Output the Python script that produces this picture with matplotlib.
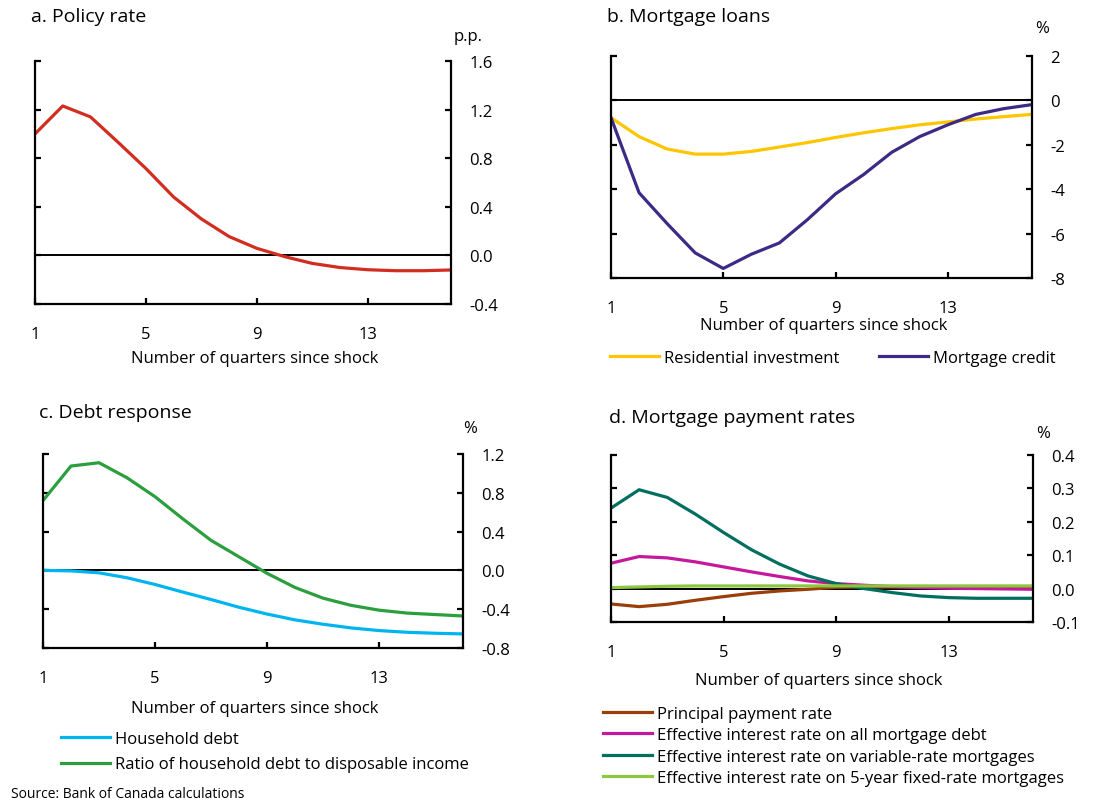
import numpy as np
import matplotlib.pyplot as plt
from matplotlib.ticker import FormatStrFormatter

plt.rcParams['font.family'] = ['Open Sans', 'DejaVu Sans']

quarters = np.arange(1, 17)

# a. Policy rate (p.p.)
policy_rate = [1.00, 1.23, 1.14, 0.93, 0.715, 0.48, 0.30, 0.155, 0.058, -0.01,
               -0.066, -0.10, -0.118, -0.126, -0.126, -0.12]

# b. Mortgage loans (%)
residential_inv = [-0.78, -1.63, -2.19, -2.42, -2.42, -2.30, -2.10, -1.90, -1.67,
                   -1.46, -1.27, -1.10, -0.97, -0.84, -0.73, -0.63]
mortgage_credit = [-0.78, -4.16, -5.55, -6.87, -7.57, -6.93, -6.42, -5.37, -4.21,
                   -3.34, -2.34, -1.63, -1.10, -0.63, -0.37, -0.19]

# c. Debt response (%)
household_debt = [0.0, -0.005, -0.025, -0.076, -0.145, -0.224, -0.30, -0.38, -0.45,
                  -0.51, -0.555, -0.593, -0.62, -0.638, -0.648, -0.655]
debt_to_income = [0.72, 1.076, 1.11, 0.955, 0.76, 0.53, 0.31, 0.14, -0.03,
                  -0.176, -0.286, -0.36, -0.41, -0.44, -0.455, -0.47]

# d. Mortgage payment rates (%)
principal_rate = [-0.046, -0.054, -0.047, -0.035, -0.024, -0.014, -0.007, -0.002,
                  0.004, 0.005, 0.005, 0.005, 0.005, 0.005, 0.005, 0.005]
eff_all = [0.076, 0.096, 0.092, 0.080, 0.065, 0.050, 0.036, 0.023, 0.015, 0.010,
           0.006, 0.003, 0.001, 0.0, -0.001, -0.002]
eff_variable = [0.241, 0.296, 0.273, 0.223, 0.168, 0.116, 0.073, 0.038, 0.015, 0.0,
                -0.012, -0.022, -0.027, -0.029, -0.029, -0.029]
eff_fixed = [0.003, 0.005, 0.007, 0.008, 0.008, 0.008, 0.008, 0.008, 0.008, 0.008,
             0.008, 0.008, 0.008, 0.008, 0.008, 0.008]

W, H = 1116, 804
fig = plt.figure(figsize=(W / 100, H / 100), dpi=100)


def box(l, r, t, b):
    return [l / W, 1 - b / H, (r - l) / W, (b - t) / H]


def setup(ax, ylim, yticks, fmt):
    ax.set_xlim(1, 16)
    ax.set_ylim(*ylim)
    ax.set_xticks([1, 5, 9, 13])
    ax.set_yticks(yticks)
    ax.yaxis.set_major_formatter(FormatStrFormatter(fmt))
    ax.spines['top'].set_visible(False)
    for s in ['left', 'right', 'bottom']:
        ax.spines[s].set_linewidth(1.6)
    ax.tick_params(axis='y', which='both', direction='in', left=True, right=True,
                   labelleft=False, labelright=True, length=4.5, width=1.6,
                   pad=13, labelsize=12)
    ax.tick_params(axis='x', direction='in', length=4.5, width=1.6, pad=16,
                   labelsize=12)
    ax.axhline(0, color='black', lw=1.4, zorder=1)


def px(x, y):
    return x / W, 1 - y / H


LW = 2.3

# a
ax = fig.add_axes(box(35, 451, 62, 305))
setup(ax, (-0.4, 1.6), np.arange(-0.4, 1.61, 0.4), '%.1f')
ax.plot(quarters, policy_rate, color='#D12D20', lw=LW)
fig.text(*px(31, 17), 'a. Policy rate', fontsize=14, va='center')
fig.text(*px(468, 37), 'p.p.', fontsize=12, va='center', ha='center')
fig.text(*px(255, 359), 'Number of quarters since shock', fontsize=12,
         va='center', ha='center')

# b
ax = fig.add_axes(box(611, 1032, 57, 279))
setup(ax, (-8, 2), np.arange(-8, 2.1, 2), '%d')
l1, = ax.plot(quarters, residential_inv, color='#FFC600', lw=LW)
l2, = ax.plot(quarters, mortgage_credit, color='#3D2A86', lw=LW)
fig.text(*px(607, 17), 'b. Mortgage loans', fontsize=14, va='center')
fig.text(*px(1042, 29), '%', fontsize=12, va='center', ha='center')
fig.text(*px(824, 326), 'Number of quarters since shock', fontsize=12,
         va='center', ha='center')
fig.legend([l1, l2], ['Residential investment', 'Mortgage credit'],
           loc='center left', bbox_to_anchor=px(610, 359), ncol=2, frameon=False,
           fontsize=12, handlelength=2.95, handletextpad=0.3, columnspacing=2.36,
           borderpad=0, borderaxespad=0)

# c
ax = fig.add_axes(box(43, 463, 455, 649))
setup(ax, (-0.8, 1.2), np.arange(-0.8, 1.21, 0.4), '%.1f')
l1, = ax.plot(quarters, household_debt, color='#00B5EF', lw=LW)
l2, = ax.plot(quarters, debt_to_income, color='#2B9E3E', lw=LW)
fig.text(*px(39, 413), 'c. Debt response', fontsize=14, va='center')
fig.text(*px(470, 429), '%', fontsize=12, va='center', ha='center')
fig.text(*px(255, 709), 'Number of quarters since shock', fontsize=12,
         va='center', ha='center')
fig.legend([l1, l2], ['Household debt', 'Ratio of household debt to disposable income'],
           loc='upper left', bbox_to_anchor=px(61, 732), frameon=False,
           fontsize=12, handlelength=2.95, handletextpad=0.3, labelspacing=0.56,
           borderpad=0, borderaxespad=0)
fig.text(*px(11, 795), 'Source: Bank of Canada calculations', fontsize=10, va='center')

# d
ax = fig.add_axes(box(611, 1033, 456, 623))
setup(ax, (-0.1, 0.4), np.arange(-0.1, 0.41, 0.1), '%.1f')
h = []
h += ax.plot(quarters, principal_rate, color='#9A3E0A', lw=LW)
h += ax.plot(quarters, eff_all, color='#C4199B', lw=LW)
h += ax.plot(quarters, eff_variable, color='#006F5F', lw=LW)
h += ax.plot(quarters, eff_fixed, color='#8DC63F', lw=LW)
fig.text(*px(609, 418), 'd. Mortgage payment rates', fontsize=14, va='center')
fig.text(*px(1043, 434), '%', fontsize=12, va='center', ha='center')
fig.text(*px(819, 681), 'Number of quarters since shock', fontsize=12,
         va='center', ha='center')
fig.legend(h, ['Principal payment rate',
               'Effective interest rate on all mortgage debt',
               'Effective interest rate on variable-rate mortgages',
               'Effective interest rate on 5-year fixed-rate mortgages'],
           loc='upper left', bbox_to_anchor=px(603, 707), frameon=False,
           fontsize=12, handlelength=2.95, handletextpad=0.3, labelspacing=0.32,
           borderpad=0, borderaxespad=0)

fig.savefig('out.png', dpi=100)
